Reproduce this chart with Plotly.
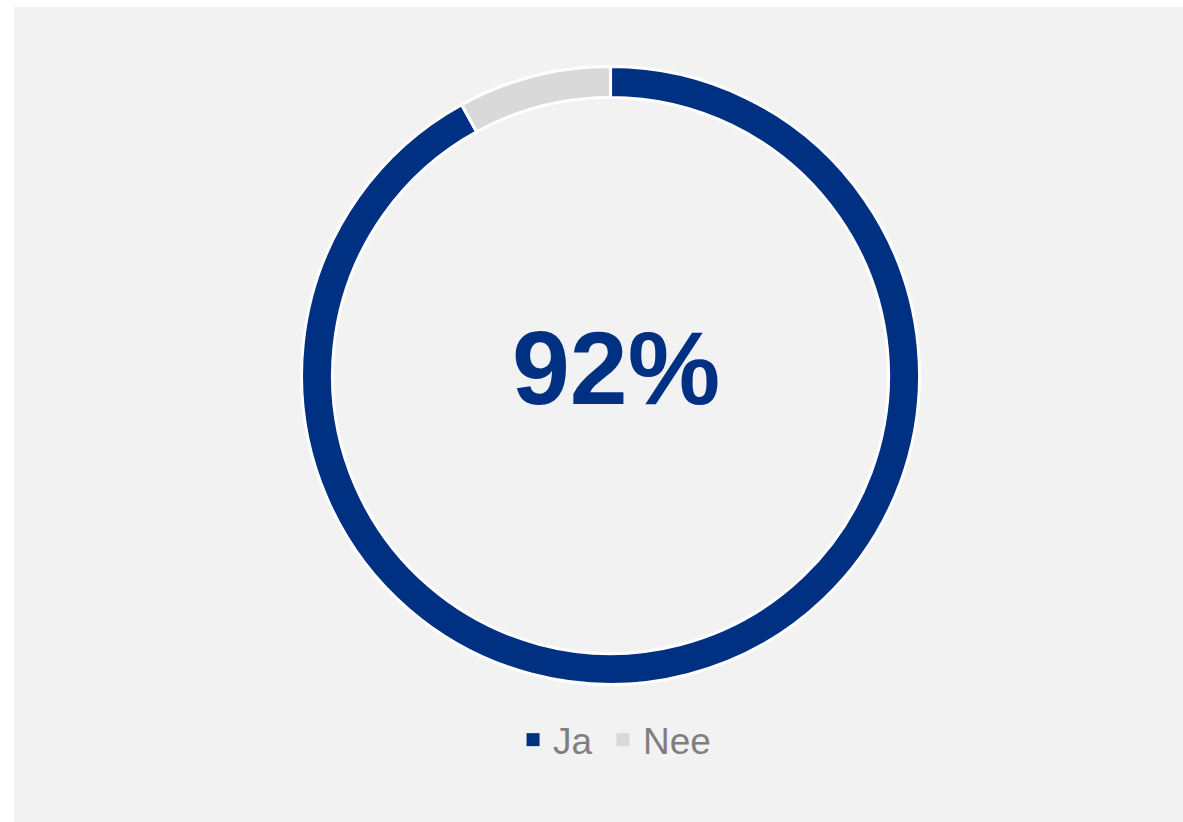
import plotly.graph_objects as go

# data
labels = ["Ja", "Nee"]
values = [92, 8]
colors = ["#003082", "#d9d9d9"]
center_text = "92%"

fig = go.Figure()

fig.add_trace(go.Pie(
    labels=labels,
    values=values,
    hole=0.9,
    sort=False,
    direction="clockwise",
    rotation=0,
    textinfo="none",
    hoverinfo="label+percent",
    showlegend=False,
    marker=dict(colors=colors, line=dict(color="white", width=3)),
    domain=dict(x=[0.5103 - 0.2643, 0.5103 + 0.2643], y=[0.5479 - 0.3791, 0.5479 + 0.3791]),
))

# legend entries as plain square markers (pie legend symbols get eaten by the white border)
# one legend per entry so the spacing can be set
for name, col, leg in zip(labels, colors, ["legend", "legend2"]):
    fig.add_trace(go.Scatter(
        x=[None], y=[None], mode="markers", name=name, legend=leg,
        marker=dict(symbol="square", size=13, color=col),
    ))

# gray panel behind the chart
fig.add_shape(type="rect", xref="paper", yref="paper",
              x0=0, x1=1, y0=0, y1=1,
              fillcolor="#f2f2f2", line=dict(width=0), layer="below")

fig.add_annotation(text="<b>" + center_text + "</b>", x=0.5148, y=0.5565,
                   xref="paper", yref="paper", showarrow=False,
                   font=dict(family="Liberation Sans, Arial", size=104, color="#003082"))

legend_style = dict(orientation="h", xanchor="left", y=0.1005, yanchor="middle",
                    font=dict(size=37, color="#7f7f7f"), bgcolor="rgba(0,0,0,0)")

fig.update_layout(
    width=1183, height=822,
    margin=dict(l=14, r=0, t=7, b=0),
    paper_bgcolor="white",
    plot_bgcolor="rgba(0,0,0,0)",
    xaxis=dict(visible=False),
    yaxis=dict(visible=False),
    font=dict(family="Liberation Sans, Arial", color="#7f7f7f"),
    showlegend=True,
    legend=dict(x=0.4269, **legend_style),
    legend2=dict(x=0.5038, **legend_style),
)

fig.write_html("out.html", config={"displayModeBar": False},
               post_script="document.body.style.margin='0';document.body.style.overflow='hidden';")
